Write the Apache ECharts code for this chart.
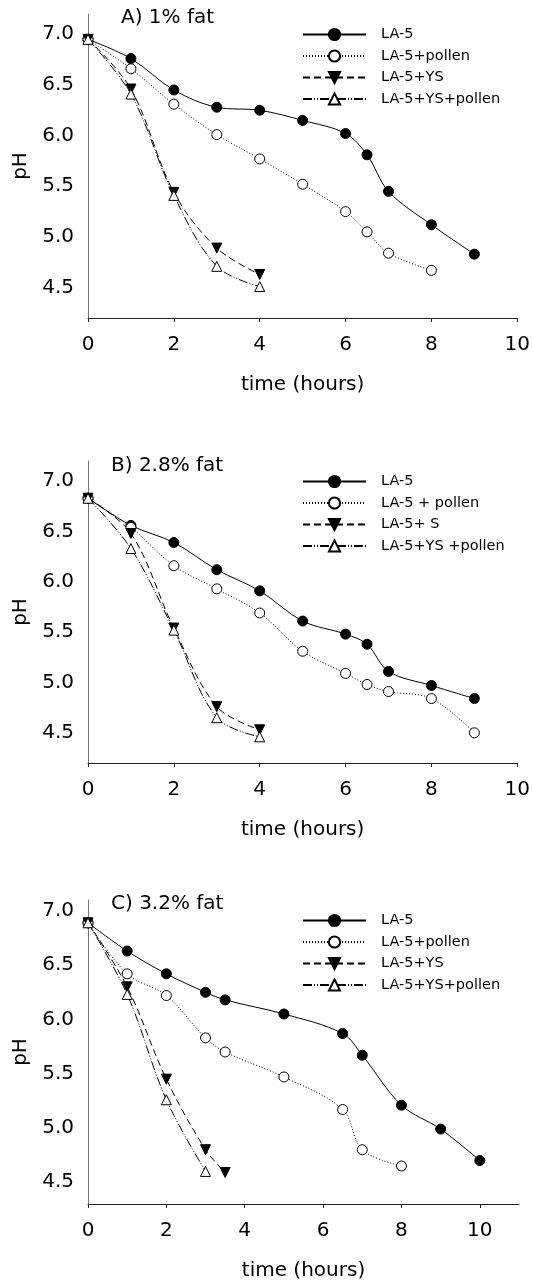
<!DOCTYPE html>
<html>
<head>
<meta charset="utf-8">
<script src="https://cdn.jsdelivr.net/npm/echarts@6/dist/echarts.min.js"></script>
<style>
  html, body { margin: 0; padding: 0; background: #fff; }
  #chart { width: 533px; height: 1282px; }
</style>
</head>
<body>
<div id="chart"></div>
<script>
// Panel A: 1% fat milk
const timeA_LA5 = [0, 1, 2, 3, 4, 5, 6, 6.5, 7, 8, 9];
const phA_LA5 = [6.95, 6.76, 6.45, 6.28, 6.25, 6.15, 6.02, 5.81, 5.45, 5.12, 4.83];
const timeA_pollen = [0, 1, 2, 3, 4, 5, 6, 6.5, 7, 8];
const phA_pollen = [6.95, 6.66, 6.31, 6.01, 5.77, 5.52, 5.25, 5.05, 4.84, 4.67];
const timeA_YS = [0, 1, 2, 3, 4];
const phA_YS = [6.95, 6.46, 5.44, 4.89, 4.63];
const timeA_YSpollen = [0, 1, 2, 3, 4];
const phA_YSpollen = [6.95, 6.41, 5.41, 4.71, 4.51];

// Panel B: 2.8% fat milk
const timeB_LA5 = [0, 1, 2, 3, 4, 5, 6, 6.5, 7, 8, 9];
const phB_LA5 = [6.83, 6.56, 6.39, 6.12, 5.91, 5.61, 5.48, 5.38, 5.11, 4.97, 4.84];
const timeB_pollen = [0, 1, 2, 3, 4, 5, 6, 6.5, 7, 8, 9];
const phB_pollen = [6.83, 6.54, 6.16, 5.93, 5.69, 5.31, 5.09, 4.98, 4.91, 4.84, 4.50];
const timeB_YS = [0, 1, 2, 3, 4];
const phB_YS = [6.83, 6.48, 5.54, 4.76, 4.53];
const timeB_YSpollen = [0, 1, 2, 3, 4];
const phB_YSpollen = [6.83, 6.33, 5.52, 4.65, 4.46];

// Panel C: 3.2% fat milk
const timeC_LA5 = [0, 1, 2, 3, 3.5, 5, 6.5, 7, 8, 9, 10];
const phC_LA5 = [6.89, 6.63, 6.42, 6.25, 6.18, 6.05, 5.87, 5.67, 5.21, 4.99, 4.70];
const timeC_pollen = [0, 1, 2, 3, 3.5, 5, 6.5, 7, 8];
const phC_pollen = [6.89, 6.42, 6.22, 5.83, 5.70, 5.47, 5.17, 4.80, 4.65];
const timeC_YS = [0, 1, 2, 3, 3.5];
const phC_YS = [6.89, 6.30, 5.45, 4.80, 4.59];
const timeC_YSpollen = [0, 1, 2, 3];
const phC_YSpollen = [6.89, 6.23, 5.26, 4.60];

const titles = ['A) 1% fat', 'B) 2.8% fat', 'C) 3.2% fat'];
const legendA = ['LA-5', 'LA-5+pollen', 'LA-5+YS', 'LA-5+YS+pollen'];
const legendB = ['LA-5', 'LA-5 + pollen', 'LA-5+ S', 'LA-5+YS +pollen'];
const legendC = ['LA-5', 'LA-5+pollen', 'LA-5+YS', 'LA-5+YS+pollen'];

const xTicksAB = [0, 2, 4, 6, 8, 10];
const xTicksC = [0, 2, 4, 6, 8, 10];
const yTicks = [4.5, 5.0, 5.5, 6.0, 6.5, 7.0];

const FONT = 'DejaVu Sans';

const zip = (xs, ys) => xs.map((x, i) => [x, ys[i]]);

// Four treatments: marker and line look
const styles = [
  { symbol: 'circle', rotate: 0, fill: '#000', dash: 'solid' },
  { symbol: 'circle', rotate: 0, fill: '#fff', dash: [1, 2] },
  { symbol: 'triangle', rotate: 180, fill: '#000', dash: [7, 4] },
  { symbol: 'triangle', rotate: 0, fill: '#fff', dash: [9, 2, 1, 2, 1, 2] }
];

const panels = [
  { top: 14, height: 304, yMin: 4.2, yMax: 7.2, xMax: 10, xTicks: xTicksAB, names: legendA,
    sets: [[timeA_LA5, phA_LA5], [timeA_pollen, phA_pollen], [timeA_YS, phA_YS], [timeA_YSpollen, phA_YSpollen]],
    titleTop: 8, titleLeft: 121, legendTop: 27 },
  { top: 461, height: 302, yMin: 4.2, yMax: 7.2, xMax: 10, xTicks: xTicksAB, names: legendB,
    sets: [[timeB_LA5, phB_LA5], [timeB_pollen, phB_pollen], [timeB_YS, phB_YS], [timeB_YSpollen, phB_YSpollen]],
    titleTop: 456, titleLeft: 111, legendTop: 474 },
  { top: 900, height: 305, yMin: 4.3, yMax: 7.1, xMax: 11, xTicks: xTicksC, names: legendC,
    sets: [[timeC_LA5, phC_LA5], [timeC_pollen, phC_pollen], [timeC_YS, phC_YS], [timeC_YSpollen, phC_YSpollen]],
    titleTop: 894, titleLeft: 111, legendTop: 913 }
];

const grid = [], xAxis = [], yAxis = [], series = [], title = [], legend = [];

panels.forEach((p, k) => {
  grid.push({ left: 88, right: 14, top: p.top, height: p.height });
  xAxis.push({
    type: 'value', gridIndex: k, min: 0, max: p.xMax,
    name: 'time (hours)', nameLocation: 'middle', nameGap: 57,
    nameTextStyle: { fontFamily: FONT, fontSize: 20, color: '#000' },
    axisLine: { onZero: false, lineStyle: { color: '#222', width: 1 } },
    axisTick: { show: true, customValues: p.xTicks, length: 4, lineStyle: { color: '#222' } },
    axisLabel: { customValues: p.xTicks, margin: 17, fontFamily: FONT, fontSize: 20, color: '#000' },
    splitLine: { show: false }
  });
  yAxis.push({
    type: 'value', gridIndex: k, min: p.yMin, max: p.yMax,
    name: 'pH', nameLocation: 'middle', nameGap: 50, nameRotate: 90,
    nameTextStyle: { fontFamily: FONT, fontSize: 20, color: '#000' },
    axisLine: { show: true, onZero: false, lineStyle: { color: '#777', width: 1 } },
    axisTick: { show: false },
    axisLabel: { customValues: yTicks, margin: 14, fontFamily: FONT, fontSize: 20, color: '#000',
      formatter: v => v.toFixed(1) },
    splitLine: { show: false }
  });
  title.push({
    text: titles[k], left: p.titleLeft, top: p.titleTop, padding: 0,
    textStyle: { fontFamily: FONT, fontSize: 20, fontWeight: 'normal', color: '#000' }
  });
  legend.push({
    data: p.names, orient: 'vertical', left: 302, top: p.legendTop, padding: 0,
    itemWidth: 63, itemHeight: 14, itemGap: 6.5, selectedMode: false,
    textStyle: { fontFamily: FONT, fontSize: 14.5, color: '#000', lineHeight: 14, padding: [0, 0, 0, 10] }
  });
  p.sets.forEach((s, j) => {
    const st = styles[j];
    series.push({
      type: 'line', name: p.names[j], xAxisIndex: k, yAxisIndex: k,
      data: zip(s[0], s[1]), smooth: 0.35,
      symbol: st.symbol, symbolRotate: st.rotate, symbolSize: 10,
      lineStyle: { color: '#000', width: 1, type: st.dash },
      itemStyle: { color: st.fill, borderColor: '#000', borderWidth: 1 },
      emphasis: { disabled: true },
      animation: false
    });
  });
});

const chart = echarts.init(document.getElementById('chart'), null, { renderer: 'canvas' });
chart.setOption({ animation: false, grid, xAxis, yAxis, series, title, legend });
</script>
</body>
</html>
